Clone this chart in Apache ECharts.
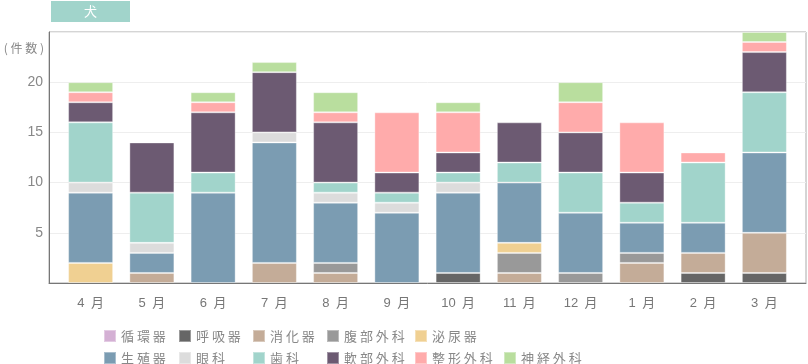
<!DOCTYPE html>
<html><head><meta charset="utf-8">
<script src="https://cdn.jsdelivr.net/npm/echarts@6/dist/echarts.min.js"></script>
<style>html,body{margin:0;padding:0;background:#fff}#c{width:808px;height:364px}</style>
</head><body><div id="c"></div>
<script>
const months = ['4月','5月','6月','7月','8月','9月','10月','11月','12月','1月','2月','3月'];
const yTicks = [5, 10, 15, 20];
const junkanki   = [0,0,0,0,0,0,0,0,0,0,0,0];
const kokyuki    = [0,0,0,0,0,0,1,0,0,0,1,1];
const shokaki    = [0,1,0,2,1,0,0,1,0,2,2,4];
const fukubu     = [0,0,0,0,1,0,0,2,1,1,0,0];
const hinyoki    = [2,0,0,0,0,0,0,1,0,0,0,0];
const seishokuki = [7,2,9,12,6,7,8,6,6,3,3,8];
const ganka      = [1,1,0,1,1,1,1,0,0,0,0,0];
const shika      = [6,5,2,0,1,1,1,2,4,2,6,6];
const nanbu      = [2,5,6,6,6,2,2,4,4,3,0,4];
const seikei     = [1,0,1,0,1,6,4,0,3,5,1,1];
const shinkei    = [1,0,1,1,2,0,1,0,2,0,0,1];

const seriesDefs = [
  ['循環器', junkanki, '#d4b0d4'],
  ['呼吸器', kokyuki, '#666666'],
  ['消化器', shokaki, '#c4ac98'],
  ['腹部外科', fukubu, '#999999'],
  ['泌尿器', hinyoki, '#f0d092'],
  ['生殖器', seishokuki, '#7b9cb2'],
  ['眼科', ganka, '#dcdcdc'],
  ['歯科', shika, '#a1d4cb'],
  ['軟部外科', nanbu, '#6c5a72'],
  ['整形外科', seikei, '#ffabab'],
  ['神経外科', shinkei, '#b9de9e']
];
const cjk = "'Noto Sans CJK JP', sans-serif";
const legendCols = [
  [103, ['循環器','生殖器']],
  [178, ['呼吸器','眼科']],
  [252, ['消化器','歯科']],
  [326, ['腹部外科','軟部外科']],
  [414, ['泌尿器','整形外科']],
  [503, [null, '神経外科']]
];
const legends = [];
legendCols.forEach(([x, names]) => names.forEach((n, r) => {
  if (!n) return;
  legends.push({
    orient: 'horizontal', left: x, top: 329 + r * 22, padding: 0,
    itemWidth: 12, itemHeight: 12, icon: 'rect', data: [n], selectedMode: false,
    textStyle: {color: '#888', fontSize: 13, fontFamily: cjk},
    formatter: s => s.split('').join(' ')
  });
}));
const chart = echarts.init(document.getElementById('c'), null, {renderer: 'canvas'});
chart.setOption({
  animation: false,
  color: seriesDefs.map(d => d[2]),
  grid: [
    {left: 49, top: 32, right: 2, bottom: 81, show: true, borderColor: '#aaa', borderWidth: 1, backgroundColor: 'transparent'},
    {left: 60, top: 32, right: 13, bottom: 81}
  ],
  xAxis: [
    {gridIndex: 0, type: 'value', min: 0, max: 1, axisLine: {show: true, onZero: false, lineStyle: {color: '#777', width: 1}},
     axisTick: {show: false}, axisLabel: {show: false}, splitLine: {show: false}},
    {gridIndex: 1, type: 'category', data: months, axisLine: {show: false}, axisTick: {show: false},
     axisLabel: {color: '#777', fontSize: 13, margin: 14, fontFamily: "'Liberation Sans', 'Noto Sans CJK JP', sans-serif",
       formatter: v => v.replace('月', '\u2002月')}}
  ],
  yAxis: [
    {gridIndex: 0, type: 'value', min: 0, max: 25, interval: 5,
     axisLine: {show: true, lineStyle: {color: '#777', width: 1}}, axisTick: {show: false},
     axisLabel: {color: '#888', fontSize: 14, margin: 6, fontFamily: "'Liberation Sans', sans-serif",
       formatter: v => yTicks.indexOf(v) >= 0 ? String(v) : ''},
     splitLine: {lineStyle: {color: '#eeeeee', width: 1}}},
    {gridIndex: 1, type: 'value', min: 0, max: 25, show: false, splitLine: {show: false}}
  ],
  legend: legends,
  graphic: [
    {type: 'rect', shape: {x: 51, y: 1, width: 79, height: 21}, style: {fill: '#a1d4cb'}},
    {type: 'text', x: 90.5, y: 11.5, style: {text: '犬', fill: '#fff', font: "13px 'Noto Sans CJK JP'", align: 'center', verticalAlign: 'middle'}},
    {type: 'text', x: 44, y: 48, style: {text: '( 件 数 )', fill: '#888', font: "12px 'Noto Sans CJK JP'", align: 'right', verticalAlign: 'middle'}}
  ],
  series: seriesDefs.map(([name, vals, col]) => ({
    name, type: 'bar', stack: 'total', xAxisIndex: 1, yAxisIndex: 1, barWidth: 45,
    data: vals.map(v => v === 0 ? null : v),
    itemStyle: {color: col, borderColor: 'rgba(255,255,255,0.35)', borderWidth: 1}
  }))
});
</script></body></html>
